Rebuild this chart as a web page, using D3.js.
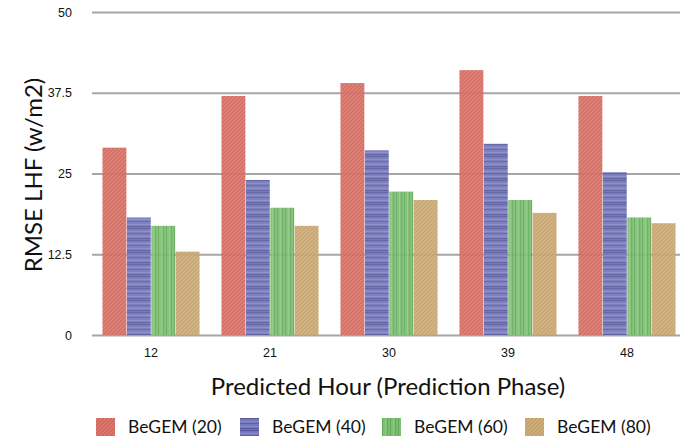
<!DOCTYPE html>
<html>
<head>
<meta charset="utf-8">
<script src="https://cdn.jsdelivr.net/npm/d3@7"></script>
<style>
  html, body { margin: 0; padding: 0; background: #fff; }
  svg { display: block; font-family: Lato, "Open Sans", sans-serif; }
</style>
</head>
<body>
<svg id="chart" width="680" height="443"></svg>
<script>
// Predicted hours along the x axis
const hours = ["12", "21", "30", "39", "48"];
// Series names (legend)
const seriesNames = ["BeGEM (20)", "BeGEM (40)", "BeGEM (60)", "BeGEM (80)"];
// RMSE LHF values per series, one per predicted hour
const begem20 = [29, 37, 39, 41, 37];
const begem40 = [18.2, 24, 28.6, 29.6, 25.2];
const begem60 = [16.9, 19.7, 22.2, 20.9, 18.2];
const begem80 = [12.9, 16.9, 20.9, 18.9, 17.3];
// Y axis tick values
const yTicks = [0, 12.5, 25, 37.5, 50];

const seriesValues = [begem20, begem40, begem60, begem80];

const svg = d3.select("#chart");
const margin = { left: 92, right: -6, top: 12, bottom: 108 };
const W = 680, H = 443;

// Striped fills for each series
const defs = svg.append("defs");
function pattern(id, size, bg, draw) {
  const p = defs.append("pattern")
    .attr("id", id).attr("patternUnits", "userSpaceOnUse")
    .attr("width", size).attr("height", size);
  p.append("rect").attr("width", size).attr("height", size).attr("fill", bg);
  draw(p);
}
// red: thin diagonal hatching
pattern("pRed", 4, "#dc7a70", p => {
  p.append("path").attr("d", "M-1,1 l2,-2 M0,4 l4,-4 M3,5 l2,-2")
    .attr("stroke", "#cf5f56").attr("stroke-width", 1.2);
});
// blue: horizontal stripes of varying weight
pattern("pBlue", 12, "#7679ba", p => {
  [[0, 1.2, "#5a5da3"], [3, 0.8, "#8a8dc6"], [5, 1, "#5e61a6"], [8, 0.7, "#8d90c8"], [10, 1.3, "#585b9f"]]
    .forEach(([y, w, c]) => p.append("rect").attr("x", 0).attr("y", y).attr("width", 12).attr("height", w).attr("fill", c));
});
// green: vertical stripes
pattern("pGreen", 8, "#7fbf74", p => {
  [[0, 1, "#62aa59"], [3, 0.8, "#93cb89"], [5, 1.2, "#66ad5c"]]
    .forEach(([x, w, c]) => p.append("rect").attr("x", x).attr("y", 0).attr("width", w).attr("height", 8).attr("fill", c));
});
// tan: diagonal hatching
pattern("pTan", 4, "#cfae7b", p => {
  p.append("path").attr("d", "M-1,1 l2,-2 M0,4 l4,-4 M3,5 l2,-2")
    .attr("stroke", "#bf9c66").attr("stroke-width", 1.1);
});
const fills = ["url(#pRed)", "url(#pBlue)", "url(#pGreen)", "url(#pTan)"];

const x0 = d3.scaleBand().domain(hours).range([margin.left, W - margin.right])
  .paddingInner(0.176).paddingOuter(0.084);
const x1 = d3.scaleBand().domain(d3.range(seriesNames.length)).range([0, x0.bandwidth()]).padding(0.02);
const y = d3.scaleLinear().domain([0, 50]).range([H - margin.bottom, margin.top]);

// Horizontal gridlines with tick labels
const yAxis = svg.append("g")
  .attr("transform", `translate(${margin.left},0)`)
  .call(d3.axisLeft(y).tickValues(yTicks).tickSize(-(W - margin.left)).tickPadding(20)
    .tickFormat(d => d));
yAxis.select(".domain").remove();
yAxis.selectAll(".tick line").attr("stroke", "#a6a6a6").attr("stroke-width", 2);
yAxis.selectAll(".tick text").attr("font-size", 12.5).attr("fill", "#111").attr("dx", 0);

// Bars
const groups = svg.append("g").selectAll("g").data(hours).join("g")
  .attr("transform", d => `translate(${x0(d)},0)`);
groups.selectAll("rect")
  .data((d, i) => seriesValues.map((vals, s) => ({ s, v: vals[i] })))
  .join("rect")
  .attr("x", d => x1(d.s))
  .attr("width", x1.bandwidth())
  .attr("y", d => y(d.v))
  .attr("height", d => y(0) - y(d.v))
  .attr("fill", d => fills[d.s])
  .attr("fill-opacity", 0.93);

// Category axis labels
const xAxis = svg.append("g")
  .attr("transform", `translate(0,${H - margin.bottom})`)
  .call(d3.axisBottom(x0).tickSize(0).tickPadding(13));
xAxis.select(".domain").remove();
xAxis.selectAll(".tick text").attr("font-size", 12.5).attr("fill", "#111");

// Axis titles
svg.append("text")
  .attr("x", 388).attr("y", 395)
  .attr("text-anchor", "middle").attr("font-size", 24).attr("fill", "#111")
  .text("Predicted Hour (Prediction Phase)");
svg.append("text")
  .attr("transform", "translate(42,175) rotate(-90)")
  .attr("text-anchor", "middle").attr("font-size", 24).attr("fill", "#111")
  .text("RMSE LHF (w/m2)");

// Legend
const legendX = [96, 240, 382, 525];
const legend = svg.append("g").selectAll("g").data(seriesNames).join("g")
  .attr("transform", (d, i) => `translate(${legendX[i]},418)`);
legend.append("rect").attr("width", 19).attr("height", 18).attr("fill", (d, i) => fills[i]);
legend.append("text").attr("x", 32).attr("y", 15).attr("font-size", 17.5).attr("fill", "#111").text(d => d);
</script>
</body>
</html>
